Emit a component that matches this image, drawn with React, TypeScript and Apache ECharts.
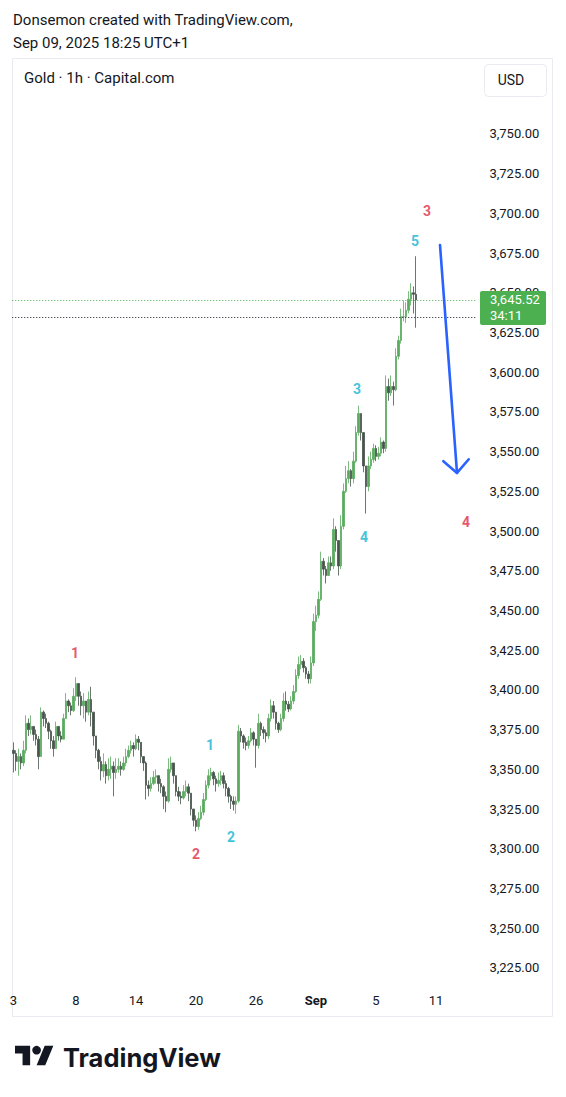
import React, { useEffect, useRef } from 'react';
import * as echarts from 'echarts';

// ---- time structure (4h bars, TradingView skips weekends) ----
const sessionDays = [
  'Aug 3', 'Aug 4', 'Aug 5', 'Aug 6', 'Aug 7', 'Aug 8', 'Aug 11', 'Aug 12', 'Aug 13', 'Aug 14', 'Aug 15',
  'Aug 18', 'Aug 19', 'Aug 20', 'Aug 21', 'Aug 22', 'Aug 25', 'Aug 26', 'Aug 27', 'Aug 28', 'Aug 29',
  'Sep 1', 'Sep 2', 'Sep 3', 'Sep 4', 'Sep 5', 'Sep 8', 'Sep 9', 'Sep 10', 'Sep 11', 'Sep 12', 'Sep 15',
];
const barHours = ['00:00', '04:00', '08:00', '12:00', '16:00', '20:00'];
const tickDays = ['Aug 3', 'Aug 8', 'Aug 14', 'Aug 20', 'Aug 26', 'Sep 1', 'Sep 5', 'Sep 11'];
const slotCount = 186;

// ---- Gold 1h (shown as 4h bars) ----
const firstOpen = 3362;
const closes = [
  3360, 3355, 3358, 3354, 3362, 3379, 3375, 3377, 3372, 3369,
  3358, 3386, 3382, 3379, 3374, 3368, 3363, 3377, 3371, 3369,
  3382, 3393, 3390, 3387, 3396, 3404, 3396, 3390, 3393, 3386,
  3394, 3386, 3371, 3362, 3355, 3349, 3353, 3346, 3350, 3352,
  3348, 3350, 3352, 3350, 3354, 3358, 3362, 3365, 3363, 3369,
  3367, 3358, 3354, 3340, 3338, 3341, 3345, 3346, 3341, 3339,
  3333, 3330, 3350, 3354, 3346, 3336, 3333, 3332, 3336, 3339,
  3335, 3325, 3318, 3314, 3319, 3323, 3331, 3340, 3346, 3348,
  3344, 3341, 3343, 3346, 3341, 3338, 3333, 3330, 3328, 3330,
  3374, 3371, 3367, 3365, 3368, 3373, 3369, 3365, 3379, 3375,
  3373, 3371, 3382, 3390, 3386, 3379, 3375, 3382, 3393, 3391,
  3388, 3393, 3399, 3409, 3416, 3418, 3414, 3410, 3407, 3417,
  3443, 3447, 3457, 3481, 3476, 3472, 3480, 3478, 3501, 3494,
  3478, 3503, 3525, 3533, 3538, 3533, 3544, 3562, 3574, 3562,
  3541, 3528, 3541, 3545, 3552, 3547, 3549, 3556, 3552, 3591,
  3587, 3591, 3589, 3610, 3620, 3635, 3635, 3639, 3646, 3650,
  3649, 3645.52,
];
const highs = [
  3367, 3362, 3363, 3360, 3368, 3384, 3382, 3384, 3377, 3375,
  3371, 3389, 3387, 3385, 3380, 3375, 3371, 3380, 3377, 3374,
  3385, 3398, 3394, 3392, 3401, 3408, 3403, 3399, 3398, 3393,
  3399, 3402, 3379, 3369, 3363, 3358, 3360, 3355, 3357, 3358,
  3355, 3357, 3357, 3355, 3358, 3363, 3365, 3368, 3367, 3372,
  3371, 3365, 3358, 3355, 3343, 3345, 3349, 3350, 3346, 3344,
  3340, 3336, 3357, 3358, 3352, 3344, 3339, 3336, 3340, 3343,
  3341, 3333, 3325, 3321, 3323, 3327, 3335, 3343, 3350, 3351,
  3349, 3346, 3348, 3349, 3348, 3343, 3339, 3334, 3333, 3333,
  3378, 3376, 3372, 3370, 3371, 3376, 3374, 3369, 3385, 3380,
  3377, 3375, 3385, 3394, 3393, 3386, 3380, 3385, 3398, 3399,
  3393, 3396, 3403, 3413, 3421, 3422, 3420, 3415, 3412, 3421,
  3448, 3453, 3462, 3487, 3483, 3478, 3484, 3484, 3508, 3503,
  3489, 3510, 3530, 3541, 3544, 3539, 3550, 3566, 3579, 3566,
  3560, 3538, 3547, 3550, 3555, 3554, 3553, 3559, 3557, 3598,
  3596, 3598, 3594, 3615, 3623, 3640, 3645, 3644, 3651, 3656,
  3654, 3673,
];
const lows = [
  3348, 3349, 3346, 3350, 3352, 3360, 3371, 3372, 3368, 3365,
  3350, 3365, 3377, 3376, 3369, 3363, 3358, 3365, 3368, 3367,
  3369, 3382, 3386, 3384, 3386, 3393, 3390, 3384, 3382, 3380,
  3384, 3377, 3365, 3357, 3350, 3343, 3345, 3341, 3343, 3344,
  3333, 3344, 3348, 3346, 3349, 3352, 3357, 3360, 3358, 3362,
  3362, 3354, 3349, 3331, 3333, 3336, 3340, 3341, 3336, 3335,
  3325, 3323, 3329, 3348, 3341, 3333, 3330, 3328, 3331, 3333,
  3330, 3321, 3314, 3311, 3312, 3318, 3321, 3330, 3338, 3343,
  3340, 3336, 3339, 3340, 3338, 3333, 3329, 3325, 3324, 3322,
  3329, 3367, 3363, 3362, 3363, 3367, 3365, 3351, 3363, 3371,
  3369, 3367, 3369, 3380, 3382, 3375, 3373, 3374, 3380, 3387,
  3386, 3387, 3391, 3398, 3407, 3413, 3411, 3407, 3404, 3404,
  3415, 3437, 3445, 3456, 3472, 3467, 3474, 3475, 3476, 3487,
  3472, 3476, 3501, 3524, 3530, 3528, 3530, 3543, 3560, 3557,
  3537, 3511, 3525, 3539, 3543, 3544, 3545, 3547, 3549, 3550,
  3582, 3585, 3579, 3588, 3608, 3618, 3632, 3631, 3637, 3642,
  3637, 3628,
];
const prevCloseLine = 3634.8;
const countdown = '34:11';

// Elliott wave labels: [bar position, price, text]
const redWave: [number, number, string][] = [
  [24.6, 3423, '1'], [73.0, 3297, '2'], [165.4, 3701.5, '3'], [181.0, 3506, '4'],
];
const cyanWave: [number, number, string][] = [
  [78.6, 3365, '1'], [87.0, 3307.5, '2'], [137.4, 3589.5, '3'], [140.2, 3496, '4'], [160.6, 3682.6, '5'],
];
// projection arrow: [from bar, from price, to bar, to price]
const arrowData = [[170.6, 3680.1, 177.4, 3536.6]];

const yMin = 3200, yMax = 3800, yStep = 25, yShowMin = 3225, yShowMax = 3750;

const UP = '#4caf50';
const CANDLE_UP = '#5bab5f';
const CANDLE_DOWN = '#46544b';
const RED = '#dd2c45';
const CYAN = '#10b3d0';
const BLUE = '#2962ff';
const INK = '#131722';
const FONT = 'Roboto, sans-serif';

export default function App() {
  const ref = useRef<HTMLDivElement>(null);
  useEffect(() => {
    const chart = echarts.init(ref.current!, null, { renderer: 'svg' });
    echarts.graphic.registerShape(
      'tvlogo',
      echarts.graphic.extendPath('M14 22H7V11H0V4h14v18zM28 22h-8l7.5-18h8L28 22z', {}) as any
    );

    const categories: string[] = [];
    sessionDays.forEach((d, i) => {
      const hours = i === 0 ? ['20:00'] : barHours;
      hours.forEach((h) => categories.push(d + ' ' + h));
    });
    const cats = categories.slice(0, slotCount);
    const tickSet = new Set(tickDays.map((d, i) => d + ' ' + (i === 0 ? '20:00' : '00:00')));

    const ohlc = closes.map((c, i) => {
      const o = i === 0 ? firstOpen : closes[i - 1];
      return [o, c, Math.min(lows[i], o, c), Math.max(highs[i], o, c)];
    });
    const lastClose = closes[closes.length - 1];

    const waveSeries = (data: [number, number, string][], color: string) => ({
      type: 'scatter',
      xAxisIndex: 1,
      yAxisIndex: 0,
      symbolSize: 1,
      itemStyle: { color: 'transparent' },
      silent: true,
      z: 5,
      data: data.map((d) => ({ value: [d[0], d[1]], name: d[2] })),
      label: {
        show: true,
        position: 'inside',
        formatter: '{b}',
        color,
        fontSize: 14,
        fontWeight: 'bold',
        fontFamily: FONT,
      },
    });

    const gridTop = 54.5;
    const gridBottomY = 1007.6;

    chart.setOption({
      animation: false,
      backgroundColor: '#ffffff',
      textStyle: { fontFamily: FONT },
      grid: { left: 12.25, right: 566 - (12.25 + slotCount * 2.5), top: gridTop, bottom: 1097 - gridBottomY, containLabel: false },
      xAxis: [
        {
          type: 'category',
          data: cats,
          boundaryGap: true,
          offset: -14,
          axisLine: { show: false },
          axisTick: { show: false },
          splitLine: { show: false },
          axisLabel: {
            interval: (_i: number, v: string) => tickSet.has(v),
            margin: 0,
            color: INK,
            fontSize: 13,
            fontFamily: FONT,
            hideOverlap: false,
            formatter: (v: string) => {
              const [m, d] = v.split(' ');
              return d === '1' ? '{b|' + m + '}' : d;
            },
            rich: { b: { fontWeight: 'bold', fontSize: 13, color: INK, fontFamily: FONT } },
          },
        },
        { type: 'value', min: -0.5, max: slotCount - 0.5, show: false },
      ],
      yAxis: {
        type: 'value',
        position: 'right',
        min: yMin,
        max: yMax,
        interval: yStep,
        axisLine: { show: false },
        axisTick: { show: false },
        splitLine: { show: false },
        axisLabel: {
          align: 'right',
          margin: 62,
          color: INK,
          fontSize: 13,
          fontFamily: FONT,
          formatter: (v: number) =>
            v < yShowMin || v > yShowMax
              ? ''
              : v.toLocaleString('en-US', { minimumFractionDigits: 2, maximumFractionDigits: 2 }),
        },
      },
      series: [
        {
          type: 'candlestick',
          data: ohlc,
          barWidth: 1.7,
          itemStyle: {
            color: CANDLE_UP, color0: CANDLE_DOWN,
            borderColor: CANDLE_UP, borderColor0: CANDLE_DOWN, borderWidth: 0.8,
          },
          markLine: {
            silent: true,
            symbol: ['none', 'none'],
            label: { show: false },
            data: [
              { yAxis: lastClose, lineStyle: { color: UP, type: [1, 2], width: 1 } },
              { yAxis: prevCloseLine, lineStyle: { color: INK, type: [1, 2], width: 1 } },
            ],
          },
        },
        waveSeries(redWave, RED),
        waveSeries(cyanWave, CYAN),
        {
          type: 'custom',
          xAxisIndex: 1,
          yAxisIndex: 0,
          silent: true,
          z: 6,
          data: arrowData,
          encode: { x: [0, 2], y: [1, 3] },
          renderItem: (_p: any, api: any) => {
            const p1 = api.coord([api.value(0), api.value(1)]);
            const p2 = api.coord([api.value(2), api.value(3)]);
            const ang = Math.atan2(p1[1] - p2[1], p1[0] - p2[0]);
            const L = 18, a = Math.PI / 4;
            const h1 = [p2[0] + L * Math.cos(ang + a), p2[1] + L * Math.sin(ang + a)];
            const h2 = [p2[0] + L * Math.cos(ang - a), p2[1] + L * Math.sin(ang - a)];
            const st = { stroke: BLUE, lineWidth: 2.6, lineCap: 'round', lineJoin: 'round', fill: null };
            return {
              type: 'group',
              children: [
                { type: 'line', shape: { x1: p1[0], y1: p1[1], x2: p2[0], y2: p2[1] }, style: st },
                { type: 'polyline', shape: { points: [h1, p2, h2] }, style: st },
              ],
            };
          },
        },
      ],
    });

    const py = chart.convertToPixel({ yAxisIndex: 0 }, lastClose) as number;

    chart.setOption({
      graphic: [
        {
          type: 'text', x: 13, y: 20, z: 10,
          style: { text: 'Donsemon created with TradingView.com,', fill: INK, fontSize: 15, fontFamily: FONT, verticalAlign: 'middle' },
        },
        {
          type: 'text', x: 13, y: 43, z: 10,
          style: { text: 'Sep 09, 2025 18:25 UTC+1', fill: INK, fontSize: 15, fontFamily: FONT, verticalAlign: 'middle' },
        },
        {
          type: 'rect', z: -1, silent: true,
          shape: { x: 12.5, y: 58.5, width: 540, height: 958 },
          style: { fill: 'none', stroke: '#e9ebf0', lineWidth: 1 },
        },
        {
          type: 'text', x: 24, y: 78, z: 10,
          style: { text: 'Gold · 1h · Capital.com', fill: INK, fontSize: 15, fontFamily: FONT, verticalAlign: 'middle' },
        },
        {
          type: 'rect', z: 10,
          shape: { x: 484.5, y: 64.5, width: 62, height: 32, r: 4 },
          style: { fill: '#ffffff', stroke: '#e9ebf0', lineWidth: 1 },
        },
        {
          type: 'text', x: 511, y: 80, z: 11,
          style: { text: 'USD', fill: INK, fontSize: 14, fontFamily: FONT, align: 'center', verticalAlign: 'middle' },
        },
        {
          type: 'rect', z: 20,
          shape: { x: 480, y: py - 9, width: 66, height: 34, r: 2 },
          style: { fill: UP },
        },
        {
          type: 'text', x: 490, y: py, z: 21,
          style: {
            text: lastClose.toLocaleString('en-US', { minimumFractionDigits: 2 }),
            fill: '#ffffff', fontSize: 13, fontFamily: FONT, verticalAlign: 'middle',
          },
        },
        {
          type: 'text', x: 490, y: py + 16, z: 21,
          style: { text: countdown, fill: '#ffffff', fontSize: 13, fontFamily: FONT, verticalAlign: 'middle' },
        },
        {
          type: 'group', x: 15, y: 1041.5, scaleX: 1.08, scaleY: 1.08, z: 10,
          children: [
            { type: 'tvlogo', style: { fill: INK } },
            { type: 'circle', shape: { cx: 20, cy: 8, r: 4 }, style: { fill: INK } },
          ],
        },
        {
          type: 'text', x: 63, y: 1057, z: 10,
          style: { text: 'TradingView', fill: INK, fontSize: 25.5, fontWeight: 'bold', fontFamily: 'Inter, Roboto, sans-serif', verticalAlign: 'middle' },
        },
      ],
    });

    return () => chart.dispose();
  }, []);

  return (
    <div
      ref={ref}
      style={{ position: 'absolute', left: 0, top: 0, width: 566, height: 1097, background: '#ffffff' }}
    />
  );
}
